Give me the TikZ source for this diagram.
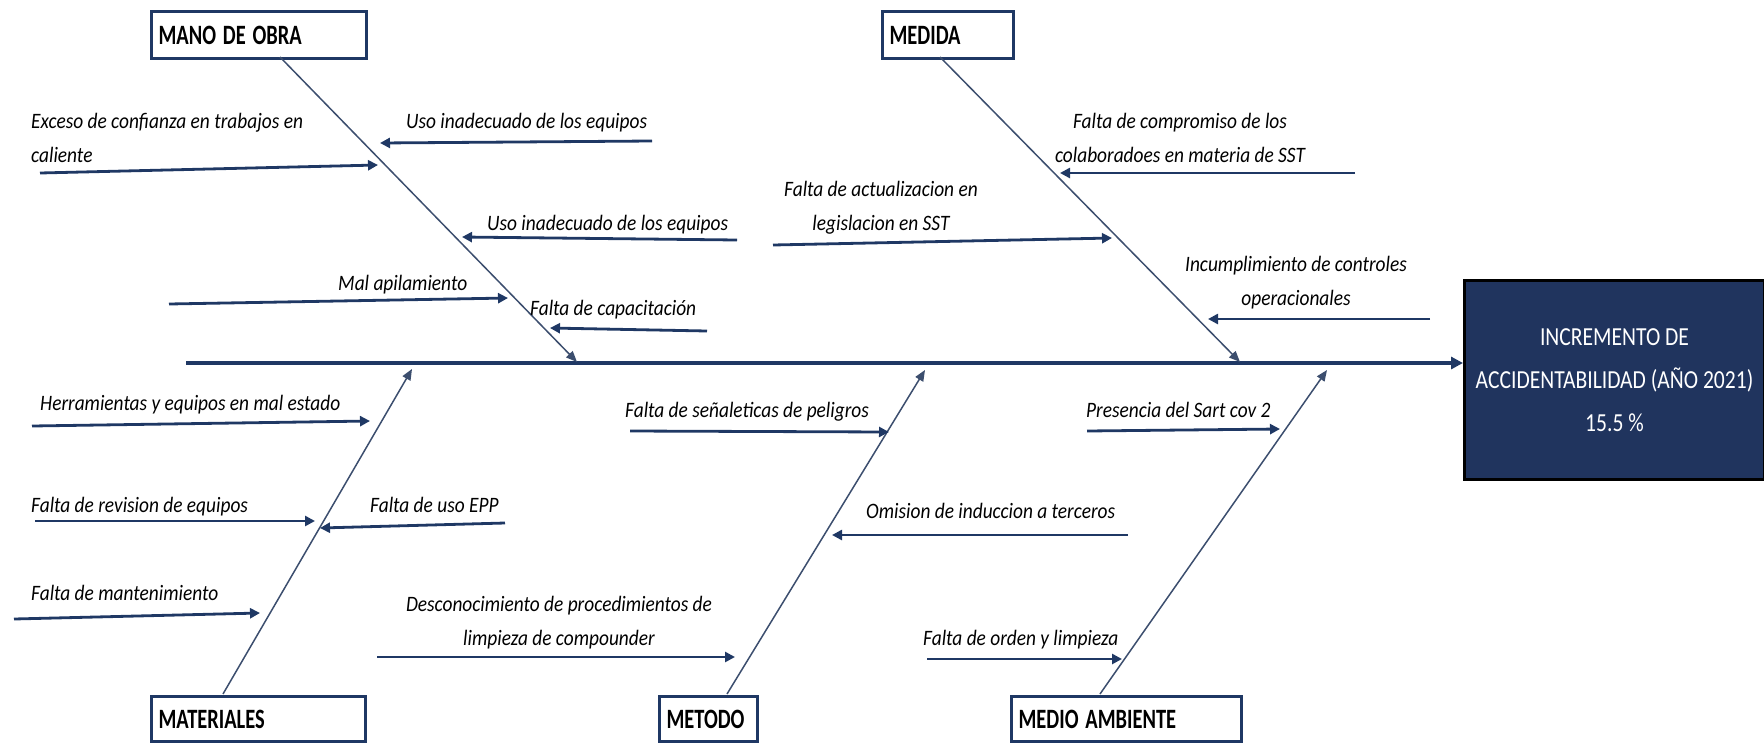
\documentclass[tikz,border=0pt]{standalone}
\usepackage{fontspec}
\setmainfont{Carlito}
\usetikzlibrary{arrows.meta}
\definecolor{navy}{RGB}{31,56,100}
\definecolor{bonec}{RGB}{60,78,110}
\definecolor{effectfill}{RGB}{32,52,94}
\newcommand{\lb}[1]{\scalebox{0.88}[1]{#1}}
\newcommand{\tb}[1]{\scalebox{0.73}[1]{#1}}
\newcommand{\eb}[1]{\scalebox{0.83}[1]{#1}}
\begin{document}
\begin{tikzpicture}[x=1pt,y=-1pt,
  lbl/.style={font=\fontsize{22pt}{34pt}\selectfont\itshape, inner sep=0pt, text=black},
  cat/.style={draw=navy, line width=3.2pt, fill=white, font=\fontsize{28pt}{30pt}\selectfont\bfseries, inner sep=0pt, text depth=0pt, align=left, anchor=north west},
  sub/.style={draw=navy, line width=2.8pt, -{Triangle[length=10pt,width=10pt]}},
  bone/.style={draw=bonec, line width=1.5pt, -{Triangle[length=11pt,width=9pt]}},
  spine/.style={draw=navy, line width=4pt, -{Triangle[length=12pt,width=12pt]}},
]
\useasboundingbox (0,0) rectangle (1764,742);

% category boxes
\node[cat, minimum width=215pt, minimum height=47pt, text width=201pt] (mo) at (150,10) {\tb{MANO DE OBRA}};
\node[cat, minimum width=131pt, minimum height=47pt, text width=117pt] (me) at (881,10) {\tb{MEDIDA}};
\node[cat, minimum width=214pt, minimum height=45pt, text width=200pt] (ma) at (150,695) {\tb{MATERIALES}};
\node[cat, minimum width=98pt, minimum height=45pt, text width=84pt] (mt) at (658,695) {\tb{METODO}};
\node[cat, minimum width=230pt, minimum height=45pt, text width=216pt] (mam) at (1010,695) {\tb{MEDIO AMBIENTE}};

% effect box
\node[draw=black, line width=3pt, fill=effectfill, minimum width=300pt, minimum height=199pt, anchor=north west, inner sep=0pt,
  text=white, align=center, font=\fontsize{26pt}{43pt}\selectfont] (eff) at (1463,279)
  {\eb{INCREMENTO DE}\\\eb{ACCIDENTABILIDAD (AÑO 2021)}\\\eb{15.5 \%}};

% spine
\coordinate (sp0) at (186,363);
\draw[spine] (sp0) -- (eff.west |- sp0);

% bones
\coordinate (b1s) at (280,57);   \coordinate (b1e) at (577,362);
\coordinate (b2s) at (940,57);   \coordinate (b2e) at (1240,362);
\coordinate (b3s) at (223,694);  \coordinate (b3e) at (412,369);
\coordinate (b4s) at (727,694);  \coordinate (b4e) at (925,370);
\coordinate (b5s) at (1100,694); \coordinate (b5e) at (1327,370);
\draw[bone] (b1s) -- (b1e);
\draw[bone] (b2s) -- (b2e);
\draw[bone] (b3s) -- (b3e);
\draw[bone] (b4s) -- (b4e);
\draw[bone] (b5s) -- (b5e);

% labels (for two-line labels the base anchor is the last line)
\node[lbl, anchor=base west, align=left] (l1) at (31,162) {\lb{Exceso de confianza en trabajos en}\\\lb{caliente}};
\node[lbl, anchor=base west] (l2) at (406,128) {\lb{Uso inadecuado de los equipos}};
\node[lbl, anchor=base west] (l3) at (487,230) {\lb{Uso inadecuado de los equipos}};
\node[lbl, anchor=base west] (l4) at (338,290) {\lb{Mal apilamiento}};
\node[lbl, anchor=base west] (l5) at (530,315) {\lb{Falta de capacitación}};
\node[lbl, anchor=base, align=center] (l6) at (1180,162) {\lb{Falta de compromiso de los}\\\lb{colaboradoes en materia de SST}};
\node[lbl, anchor=base, align=center] (l7) at (881,230) {\lb{Falta de actualizacion en}\\\lb{legislacion en SST}};
\node[lbl, anchor=base, align=center] (l8) at (1296,305) {\lb{Incumplimiento de controles}\\\lb{operacionales}};
\node[lbl, anchor=base west] (l9) at (40,410) {\lb{Herramientas y equipos en mal estado}};
\node[lbl, anchor=base west] (l10) at (31,512) {\lb{Falta de revision de equipos}};
\node[lbl, anchor=base west] (l11) at (370,512) {\lb{Falta de uso EPP}};
\node[lbl, anchor=base west] (l12) at (31,600) {\lb{Falta de mantenimiento}};
\node[lbl, anchor=base west] (l13) at (625,417) {\lb{Falta de señaleticas de peligros}};
\node[lbl, anchor=base, align=center] (l14) at (559,645) {\lb{Desconocimiento de procedimientos de}\\\lb{limpieza de compounder}};
\node[lbl, anchor=base west] (l15) at (866,518) {\lb{Omision de induccion a terceros}};
\node[lbl, anchor=base west] (l16) at (1086,417) {\lb{Presencia del Sart cov 2}};
\node[lbl, anchor=base west] (l17) at (923,645) {\lb{Falta de orden y limpieza}};

% sub-cause arrows
\coordinate (a1s) at (40,173);   \coordinate (a1e) at (378,165);
\coordinate (a2s) at (652,141);  \coordinate (a2e) at (380,143);
\coordinate (a3s) at (737,240);  \coordinate (a3e) at (462,237);
\coordinate (a4s) at (169,304);  \coordinate (a4e) at (508,298);
\coordinate (a5s) at (707,331);  \coordinate (a5e) at (550,328);
\coordinate (a6s) at (1355,173); \coordinate (a6e) at (1060,173);
\coordinate (a7s) at (773,245);  \coordinate (a7e) at (1112,238);
\coordinate (a8s) at (1430,319); \coordinate (a8e) at (1208,319);
\coordinate (a9s) at (32,426);   \coordinate (a9e) at (370,421);
\coordinate (a10s) at (35,521);  \coordinate (a10e) at (315,521);
\coordinate (a11s) at (505,523); \coordinate (a11e) at (320,528);
\coordinate (a12s) at (14,619);  \coordinate (a12e) at (260,613);
\coordinate (a13s) at (630,431); \coordinate (a13e) at (889,432);
\coordinate (a14s) at (377,657); \coordinate (a14e) at (735,657);
\coordinate (a15s) at (1128,535);\coordinate (a15e) at (832,535);
\coordinate (a16s) at (1087,431);\coordinate (a16e) at (1280,429);
\coordinate (a17s) at (927,659); \coordinate (a17e) at (1122,659);
\foreach \i in {1,...,17} {\draw[sub] (a\i s) -- (a\i e);}
\end{tikzpicture}
\end{document}
